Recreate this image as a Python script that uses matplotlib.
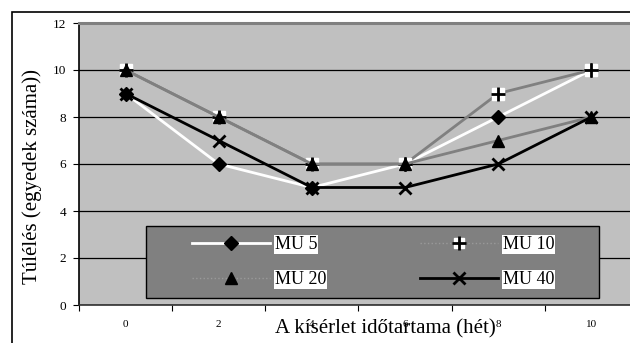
import matplotlib.pyplot as plt
from matplotlib.patches import Rectangle
from matplotlib.legend_handler import HandlerTuple

plt.rcParams['font.family'] = ['Liberation Serif', 'DejaVu Serif']

weeks = ['0', '2', '4', '6', '8', '10']
mu5 = [9, 6, 5, 6, 8, 10]
mu10 = [10, 8, 6, 6, 9, 10]
mu20 = [10, 8, 6, 6, 7, 8]
mu40 = [9, 7, 5, 5, 6, 8]

W, H = 630, 343
fig = plt.figure(figsize=(W / 100, H / 100), dpi=100)
# outer frame of the chart object (runs off the right / bottom edge)
fig.patches.append(Rectangle((12 / W, -0.2), 1.2, 0.2 + 1 - 12 / H, transform=fig.transFigure,
                             fill=False, edgecolor='black', linewidth=1.2))

ax = fig.add_axes([79 / W, 1 - 305 / H, 559 / W, 282 / H])
ax.set_facecolor('#c0c0c0')
x = range(len(weeks))

l5, = ax.plot(x, mu5, color='white', lw=2, marker='D', ms=7, mfc='black', mec='black', zorder=3)
ax.plot(x, mu10, color='#808080', lw=2, marker='s', ms=9, mfc='white', mec='white', zorder=3)
p10, = ax.plot(x, mu10, ls='none', marker='+', ms=10, mew=2, color='black', zorder=3)
ax.plot(x, mu20, color='#808080', lw=2, marker='^', ms=9, mfc='black', mec='black', zorder=3)
l40, = ax.plot(x, mu40, color='black', lw=2, marker='x', ms=9, mew=2, zorder=3)

# legend proxies (faint dotted line as in the original legend)
h10 = ax.plot([], [], ls=':', color='#9a9a9a', lw=1, marker='s', ms=7, mfc='white', mec='white')[0]
h20 = ax.plot([], [], ls=':', color='#9a9a9a', lw=1, marker='^', ms=9, mfc='black', mec='black')[0]

ax.set_xlim(-0.5, 5.5)
ax.set_ylim(0, 12)
ax.set_yticks(range(0, 13, 2))
ax.set_xticks([i - 0.5 for i in range(7)])
ax.set_xticklabels([])
ax.set_xticks(list(x), minor=True)
ax.set_xticklabels(weeks, minor=True)
ax.tick_params(axis='x', which='minor', length=0, pad=11, labelsize=8)
ax.tick_params(axis='x', which='major', direction='out', length=4)
ax.tick_params(axis='y', direction='out', length=4, labelsize=9.5, pad=5)
ax.grid(axis='y', color='black', lw=0.9)
ax.set_axisbelow(True)
ax.spines['right'].set_visible(False)
ax.spines['top'].set_color('#808080')
ax.spines['top'].set_linewidth(2.2)
ax.spines['left'].set_linewidth(1.2)
ax.spines['bottom'].set_linewidth(1.2)
ax.spines['bottom'].set_color('#303030')

# legend box
ax.add_patch(Rectangle((146 / W, 1 - 298 / H), 453 / W, 72 / H, transform=fig.transFigure,
                       facecolor='#808080', edgecolor='black', linewidth=1, zorder=4, clip_on=False))
leg = ax.legend([l5, h20, (h10, p10), l40], ['MU 5', 'MU 20', 'MU 10', 'MU 40'],
                ncol=2, loc='center', bbox_to_anchor=(373 / W, 1 - 262 / H),
                bbox_transform=fig.transFigure, fontsize=13, frameon=False,
                handlelength=4.3, handletextpad=0.28, columnspacing=5.2, labelspacing=1.0,
                handler_map={tuple: HandlerTuple(ndivide=1)})
leg.set_zorder(5)
for t in leg.get_texts():
    t.set_bbox(dict(facecolor='white', edgecolor='none', pad=0.5))

fig.text(385 / W, 1 - 333 / H, 'A kísérlet időtartama (hét)', ha='center', va='baseline', fontsize=15)
fig.text(32 / W, 1 - 176 / H, 'Túlélés (egyedek száma))', ha='center', va='center',
         rotation=90, fontsize=15)

fig.savefig('out.png', dpi=100)
